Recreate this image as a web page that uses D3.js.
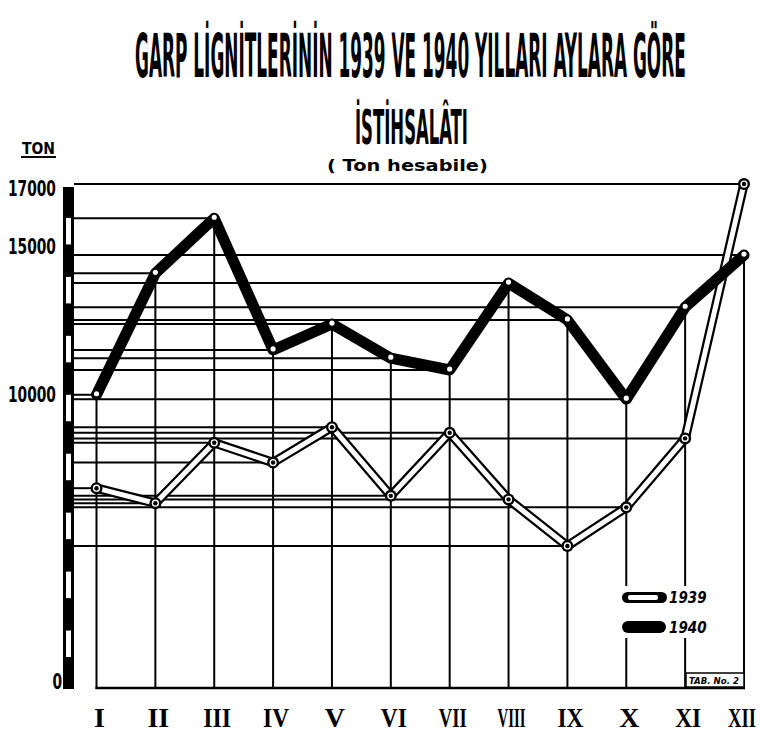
<!DOCTYPE html>
<html>
<head>
<meta charset="utf-8">
<script src="https://cdn.jsdelivr.net/npm/d3@7"></script>
<style>
  html, body { margin: 0; padding: 0; background: #fff; }
  svg { display: block; }
  .narrow { font-family: 'Liberation Sans Narrow', 'DejaVu Sans Condensed', 'Liberation Sans', sans-serif; font-weight: bold; }
</style>
</head>
<body>
<svg id="chart" width="760" height="735"></svg>
<script>
// ---- data ----
const months = ["I","II","III","IV","V","VI","VII","VIII","IX","X","XI","XII"];
const v1939 = [6780, 6270, 8320, 7650, 8850, 6520, 8660, 6400, 4820, 6130, 8470, 17100];
const v1940 = [9950, 14070, 15940, 11470, 12350, 11190, 10790, 13740, 12490, 9800, 12920, 14690];
const yTickValues = [0, 10000, 15000, 17000];
const titleLine1 = "GARP LİGNİTLERİNİN 1939 VE 1940 YILLARI AYLARA GÖRE";
const titleLine2 = "İSTİHSALÂTI";
const subtitle = "( Ton hesabile)";
const unitLabel = "TON";
const seriesNames = ["1939", "1940"];
const stampText = "TAB. No. 2";

const svg = d3.select("#chart");
const x = d3.scalePoint().domain(months).range([96.5, 744]);
const y = d3.scaleLinear().domain([0, 17000]).range([688, 187]);
const barLeft = 63, barRight = 74;

// squeeze a text horizontally so it spans [x0, x0 + w] (via transform, keeps real text)
function fitText(sel, x0, yb, w) {
  sel.attr("x", 0).attr("y", 0).attr("text-anchor", "start");
  const nat = sel.node().getComputedTextLength();
  const k = w / nat;
  sel.attr("transform", `translate(${x0},${yb}) scale(${k},1)`);
}

// ---- title ----
fitText(svg.append("text").attr("class", "narrow").attr("font-size", 60).text(titleLine1), 135, 77, 551);
fitText(svg.append("text").attr("class", "narrow").attr("font-size", 48).text(titleLine2), 355, 144, 113);
fitText(svg.append("text").attr("font-size", 16)
  .attr("font-family", "'DejaVu Sans', sans-serif").attr("font-weight", "bold")
  .text(subtitle), 327, 171, 161);

// unit label
fitText(svg.append("text").attr("class", "narrow").attr("font-size", 16).text(unitLabel), 22, 154, 33);
svg.append("line").attr("x1", 21).attr("x2", 56).attr("y1", 157).attr("y2", 157)
  .attr("stroke", "#000").attr("stroke-width", 2);

// ---- reference lines (horizontal, from axis to each point) ----
const refs = [];
months.forEach((m, i) => { refs.push({ m, v: v1939[i] }); refs.push({ m, v: v1940[i] }); });
svg.append("g").selectAll("line").data(refs).join("line")
  .attr("x1", barRight).attr("x2", d => x(d.m))
  .attr("y1", d => y(d.v)).attr("y2", d => y(d.v))
  .attr("stroke", "#000").attr("stroke-width", 2);

// vertical month lines from the 1940 point to the base
svg.append("g").selectAll("line").data(months).join("line")
  .attr("x1", d => x(d)).attr("x2", d => x(d))
  .attr("y1", (d, i) => y(v1940[i]))
  .attr("y2", y(0) + 1)
  .attr("stroke", "#000").attr("stroke-width", 2);

// base line
svg.append("line").attr("x1", x(months[0]) - 1).attr("x2", x(months[11]) + 1)
  .attr("y1", y(0)).attr("y2", y(0)).attr("stroke", "#000").attr("stroke-width", 2.5);

// ---- axis bar with alternating 1000-unit segments ----
svg.append("rect").attr("x", barLeft).attr("y", y(17000))
  .attr("width", barRight - barLeft).attr("height", y(0) - y(17000) + 1).attr("fill", "#000");
const segs = d3.range(0, 17, 1).filter(k => k % 2 === 1);
svg.append("g").selectAll("rect").data(segs).join("rect")
  .attr("x", barLeft + 3).attr("width", barRight - barLeft - 6)
  .attr("y", k => y((k + 1) * 1000) + 1.5)
  .attr("height", k => y(k * 1000) - y((k + 1) * 1000) - 3)
  .attr("fill", "#fff");

// y tick labels
const tickG = svg.append("g");
yTickValues.forEach(v => {
  const t = tickG.append("text").attr("class", "narrow").attr("font-size", 21).text(v);
  const s = String(v);
  const w = s.length * 9.6;
  const right = v === 0 ? 62 : 56;
  const yb = v === 0 ? y(v) + 1 : y(v) + 8.5;
  fitText(t, right - w, yb, w);
});

// ---- 1939 hollow line ----
const line = d3.line().x((d, i) => x(months[i])).y(d => y(d));
svg.append("path").datum(v1939).attr("d", line)
  .attr("fill", "none").attr("stroke", "#000").attr("stroke-width", 9.5)
  .attr("stroke-linejoin", "round");
svg.append("path").datum(v1939).attr("d", line)
  .attr("fill", "none").attr("stroke", "#fff").attr("stroke-width", 5)
  .attr("stroke-linejoin", "round");
const m39 = svg.append("g").selectAll("g").data(v1939).join("g")
  .attr("transform", (d, i) => `translate(${x(months[i])},${y(d)})`);
m39.append("circle").attr("r", 6).attr("fill", "#000");
m39.append("circle").attr("r", 3.6).attr("fill", "#fff");
m39.append("circle").attr("r", 2.2).attr("fill", "#000");

// ---- 1940 thick line ----
svg.append("path").datum(v1940).attr("d", line)
  .attr("fill", "none").attr("stroke", "#000").attr("stroke-width", 11)
  .attr("stroke-linejoin", "round").attr("stroke-linecap", "round");
svg.append("g").selectAll("circle").data(v1940).join("circle")
  .attr("cx", (d, i) => x(months[i])).attr("cy", d => y(d) - 1)
  .attr("r", 3.2).attr("fill", "#fff").attr("stroke", "#000").attr("stroke-width", 1.2);

// ---- month labels ----
const mlG = svg.append("g");
months.forEach((m, i) => {
  const t = mlG.append("text")
    .attr("font-family", "'Liberation Serif', 'DejaVu Serif', serif")
    .attr("font-weight", "bold").attr("font-size", 28).text(m);
  t.attr("x", 0).attr("y", 0);
  const nat = t.node().getComputedTextLength();
  const maxW = m.length >= 3 ? 28 : (m.length === 2 ? 26 : 24);
  const w = Math.min(nat, maxW);
  let cx = x(m) + 3;
  if (cx + w / 2 > 756) cx = 756 - w / 2;
  fitText(t, cx - w / 2, 727, w);
});

// ---- legend ----
const leg = svg.append("g");
leg.append("rect").attr("x", 617).attr("y", 586).attr("width", 88).attr("height", 52).attr("fill", "#fff");
leg.append("rect").attr("x", 622).attr("y", 592).attr("width", 45).attr("height", 11).attr("rx", 5.5).attr("fill", "#000");
leg.append("rect").attr("x", 628).attr("y", 595).attr("width", 30).attr("height", 5).attr("rx", 2).attr("fill", "#fff");
leg.append("rect").attr("x", 622).attr("y", 621).attr("width", 44).attr("height", 12).attr("rx", 6).attr("fill", "#000");
leg.selectAll("text").data(seriesNames).join("text").attr("class", "narrow")
  .attr("x", 669).attr("y", (d, i) => i === 0 ? 603 : 633)
  .attr("font-size", 15).attr("font-style", "italic")
  .text(d => d);

// stamp box
svg.append("rect").attr("x", 686).attr("y", 673).attr("width", 58).attr("height", 14)
  .attr("fill", "#fff").attr("stroke", "#000").attr("stroke-width", 1.5);
fitText(svg.append("text").attr("class", "narrow").attr("font-size", 9).attr("font-style", "italic")
  .text(stampText), 689, 684, 50);
</script>
</body>
</html>
